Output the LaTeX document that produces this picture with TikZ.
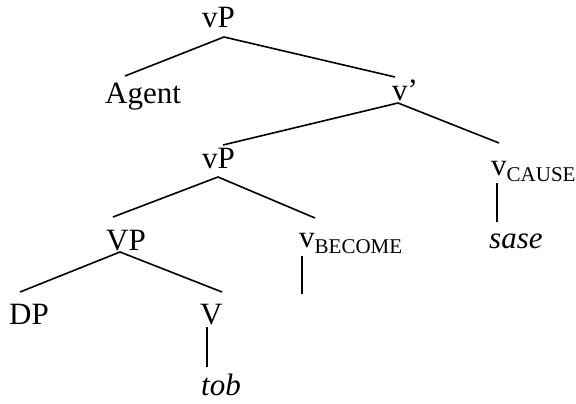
\documentclass[tikz,border=0pt]{standalone}
\usepackage{fontspec}
\setmainfont{Liberation Serif}
\begin{document}
\begin{tikzpicture}[x=1pt,y=-1pt,
  lab/.style={anchor=base west,inner sep=0pt,font=\fontsize{31}{36}\selectfont},
  br/.style={line width=1.6pt}]
\useasboundingbox (0,0) rectangle (576,404);
\newcommand{\subsc}[1]{\raisebox{-6pt}{\fontsize{21}{24}\selectfont #1}}
% labels
\node[lab] (vP1) at (202,28) {vP};
\node[lab] (Agent) at (105,103) {Agent};
\node[lab] (vbar) at (392,100) {v’};
\node[lab] (vP2) at (202,168) {vP};
\node[lab] (vCause) at (491,175) {v\subsc{CAUSE}};
\node[lab] (sase) at (489,248) {\itshape sase};
\node[lab] (VP) at (106,250) {VP};
\node[lab] (vBecome) at (299,247) {v\subsc{BECOME}};
\node[lab] (DP) at (9,324) {DP};
\node[lab] (V) at (200,324) {V};
\node[lab] (tob) at (201,395) {\itshape tob};
% attachment points
\coordinate (vP1-b) at (224,37);
\coordinate (Agent-t) at (125,76);
\coordinate (vbar-t) at (395,77);
\coordinate (vbar-b) at (398,103);
\coordinate (vP2-t) at (223,145);
\coordinate (vCause-t) at (499,143);
\coordinate (vCause-b) at (497,183);
\coordinate (sase-t) at (497,222);
\coordinate (vP2-b) at (218,177);
\coordinate (VP-t) at (113,217);
\coordinate (vBecome-t) at (315,218);
\coordinate (vBecome-b) at (302,256);
\coordinate (vBecome-e) at (302,294);
\coordinate (VP-b) at (120,252);
\coordinate (DP-t) at (20,292);
\coordinate (V-t) at (222,292);
\coordinate (V-b) at (207,327);
\coordinate (tob-t) at (207,367);
% branches
\draw[br] (Agent-t) -- (vP1-b) -- (vbar-t);
\draw[br] (vP2-t) -- (vbar-b) -- (vCause-t);
\draw[br] (vCause-b) -- (sase-t);
\draw[br] (VP-t) -- (vP2-b) -- (vBecome-t);
\draw[br] (vBecome-b) -- (vBecome-e);
\draw[br] (DP-t) -- (VP-b) -- (V-t);
\draw[br] (V-b) -- (tob-t);
\end{tikzpicture}
\end{document}
